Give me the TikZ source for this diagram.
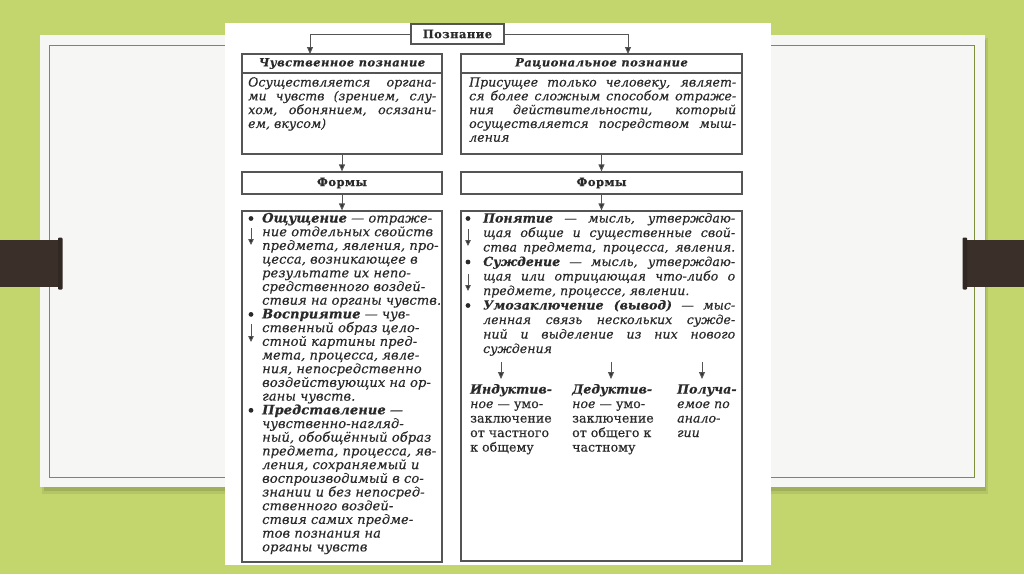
\documentclass[tikz,border=0pt]{standalone}
\usepackage{fontspec}
\setmainfont{DejaVu Serif}
\newfontfamily\myHdFam[LetterSpace=4,FakeBold=0.3]{DejaVu Serif}
\newfontfamily\myBodyL[LetterSpace=0.8,FakeBold=0.35]{DejaVu Serif}
\newfontfamily\myBodyR[LetterSpace=0.5,FakeBold=0.35]{DejaVu Serif}
\usetikzlibrary{arrows.meta}
\definecolor{bggreen}{HTML}{C3D66E}
\definecolor{panelc}{HTML}{F6F6F4}
\definecolor{frameol}{HTML}{7E8F3C}
\definecolor{tabc}{HTML}{3A2F29}
\definecolor{linec}{HTML}{555555}
\definecolor{arrc}{HTML}{333333}
\definecolor{txtc}{HTML}{2A2A2A}
\newcommand\myTrm[1]{{\bfseries #1}}
\tikzset{
  boxst/.style={draw=linec, line width=1.2pt, inner sep=0pt, fill=white},
  hdup/.style={font=\myHdFam\bfseries\fontsize{11.5}{13}\selectfont, text=txtc},
  hdit/.style={font=\myHdFam\bfseries\itshape\fontsize{11.5}{13}\selectfont, text=txtc},
  arr/.style={draw=linec, line width=1pt, -{Triangle[length=7pt,width=6pt,fill=arrc]}},
  sarr/.style={draw=linec, line width=0.8pt, -{Triangle[length=6pt,width=5.5pt,fill=arrc]}},
  lnL/.style={anchor=base west, inner sep=0pt, text=txtc, font=\myBodyL\itshape\fontsize{13}{14}\selectfont},
  lnR/.style={anchor=base west, inner sep=0pt, text=txtc, font=\myBodyR\itshape\fontsize{12.5}{14}\selectfont},
  lnU/.style={anchor=base west, inner sep=0pt, text=txtc, font=\myBodyL\fontsize{12.5}{14}\selectfont},
  bul/.style={circle, fill=txtc, inner sep=0pt, minimum size=4.8pt}
}
\begin{document}
\begin{tikzpicture}[x=1pt,y=-1pt]
\useasboundingbox (0,0) rectangle (1024,574);
% slide background
\fill[bggreen] (0,0) rectangle (1024,574);
\fill[black,opacity=0.08] (42,38) rectangle (988,494);
\fill[black,opacity=0.10] (44,40) rectangle (986,491);
\fill[panelc] (40,35) rectangle (985,487);
\draw[frameol, line width=0.9pt] (49,45) rectangle (974,477);
\fill[tabc] (0,240) rectangle (62,287);
\fill[tabc!85!black, rounded corners=1pt] (58,237.5) rectangle (62.5,289.5);
\fill[tabc] (963,240) rectangle (1024,287);
\fill[tabc!85!black, rounded corners=1pt] (962.5,237.5) rectangle (967,289.5);
% picture area
\fill[white] (225,23) rectangle (771,565);

% main boxes
\node[boxst, hdup, minimum width=93pt, minimum height=20pt] (pz) at (457.5,34) {Познание};
\node[boxst, minimum width=200pt, minimum height=100pt] (lt) at (342,104) {};
\node[boxst, hdit, minimum width=200pt, minimum height=19pt] (lth) at (342,63.5) {Чувственное познание};
\node[boxst, minimum width=281pt, minimum height=100pt] (rt) at (601.5,104) {};
\node[boxst, hdit, minimum width=281pt, minimum height=19pt] (rth) at (601.5,63.5) {Рациональное познание};
\node[boxst, hdup, minimum width=200pt, minimum height=22pt] (lf) at (342,183) {Формы};
\node[boxst, hdup, minimum width=281pt, minimum height=22pt] (rf) at (601.5,183) {Формы};
\node[boxst, minimum width=200pt, minimum height=351pt] (lb) at (342,386.5) {};
\node[boxst, minimum width=281pt, minimum height=350pt] (rb) at (601.5,386) {};

% connectors
\coordinate (ltin) at (310,54);
\coordinate (rtin) at (628,54);
\draw[arr] (pz.west) -| (ltin);
\draw[arr] (pz.east) -| (rtin);
\draw[arr] (lt.south) -- (lf.north);
\draw[arr] (rt.south) -- (rf.north);
\draw[arr] (lf.south) -- (lb.north);
\draw[arr] (rf.south) -- (rb.north);

% top-left text
\node[lnR] (lt1) at (248,86.5) {\makebox[188pt][s]{Осуществляется органа-}};
\node[lnR] (lt2) at (248,100.3) {\makebox[188pt][s]{ми чувств (зрением, слу-}};
\node[lnR] (lt3) at (248,114.1) {\makebox[188pt][s]{хом, обонянием, осязани-}};
\node[lnR] (lt4) at (248,127.9) {ем, вкусом)};
% top-right text
\node[lnR] (rt1) at (469,86.5) {\makebox[267pt][s]{Присущее только человеку, являет-}};
\node[lnR] (rt2) at (469,100.3) {\makebox[267pt][s]{ся более сложным способом отраже-}};
\node[lnR] (rt3) at (469,114.1) {\makebox[267pt][s]{ния действительности, который}};
\node[lnR] (rt4) at (469,127.9) {\makebox[267pt][s]{осуществляется посредством мыш-}};
\node[lnR] (rt5) at (469,141.7) {ления};

% left lower text
\node[bul] (lbb1) at (251,218.5) {};
\node[bul] (lbb2) at (251,314.4) {};
\node[bul] (lbb3) at (251,410.3) {};
\coordinate (lma1) at (251,228); \coordinate (lmb1) at (251,245);
\coordinate (lma2) at (251,324); \coordinate (lmb2) at (251,342);
\draw[sarr] (lma1) -- (lmb1);
\draw[sarr] (lma2) -- (lmb2);
\node[lnL] (L1) at (262,222.5) {\myTrm{Ощущение} — отраже-};
\node[lnL] (L2) at (262,236.2) {ние отдельных свойств};
\node[lnL] (L3) at (262,249.9) {предмета, явления, про-};
\node[lnL] (L4) at (262,263.6) {цесса, возникающее в};
\node[lnL] (L5) at (262,277.3) {результате их непо-};
\node[lnL] (L6) at (262,291.0) {средственного воздей-};
\node[lnL] (L7) at (262,304.7) {ствия на органы чувств.};
\node[lnL] (L8) at (262,318.4) {\myTrm{Восприятие} — чув-};
\node[lnL] (L9) at (262,332.1) {ственный образ цело-};
\node[lnL] (L10) at (262,345.8) {стной картины пред-};
\node[lnL] (L11) at (262,359.5) {мета, процесса, явле-};
\node[lnL] (L12) at (262,373.2) {ния, непосредственно};
\node[lnL] (L13) at (262,386.9) {воздействующих на ор-};
\node[lnL] (L14) at (262,400.6) {ганы чувств.};
\node[lnL] (L15) at (262,414.3) {\myTrm{Представление} —};
\node[lnL] (L16) at (262,428.0) {чувственно-нагляд-};
\node[lnL] (L17) at (262,441.7) {ный, обобщённый образ};
\node[lnL] (L18) at (262,455.4) {предмета, процесса, яв-};
\node[lnL] (L19) at (262,469.1) {ления, сохраняемый и};
\node[lnL] (L20) at (262,482.8) {воспроизводимый в со-};
\node[lnL] (L21) at (262,496.5) {знании и без непосред-};
\node[lnL] (L22) at (262,510.2) {ственного воздей-};
\node[lnL] (L23) at (262,523.9) {ствия самих предме-};
\node[lnL] (L24) at (262,537.6) {тов познания на};
\node[lnL] (L25) at (262,551.3) {органы чувств};

% right lower text
\node[bul] (rbb1) at (468,218.5) {};
\node[bul] (rbb2) at (468,262) {};
\node[bul] (rbb3) at (468,305.5) {};
\coordinate (rma1) at (468,229); \coordinate (rmb1) at (468,246);
\coordinate (rma2) at (468,274); \coordinate (rmb2) at (468,291);
\draw[sarr] (rma1) -- (rmb1);
\draw[sarr] (rma2) -- (rmb2);
\node[lnR] (R1) at (483,222.5) {\makebox[252pt][s]{\myTrm{Понятие} — мысль, утверждаю-}};
\node[lnR] (R2) at (483,237) {\makebox[252pt][s]{щая общие и существенные свой-}};
\node[lnR] (R3) at (483,251.5) {\makebox[252pt][s]{ства предмета, процесса, явления.}};
\node[lnR] (R4) at (483,266) {\makebox[252pt][s]{\myTrm{Суждение} — мысль, утверждаю-}};
\node[lnR] (R5) at (483,280.5) {\makebox[252pt][s]{щая или отрицающая что-либо о}};
\node[lnR] (R6) at (483,295) {предмете, процессе, явлении.};
\node[lnR] (R7) at (483,309.5) {\makebox[252pt][s]{\myTrm{Умозаключение (вывод)} — мыс-}};
\node[lnR] (R8) at (483,324) {\makebox[252pt][s]{ленная связь нескольких сужде-}};
\node[lnR] (R9) at (483,338.5) {\makebox[252pt][s]{ний и выделение из них нового}};
\node[lnR] (R10) at (483,353) {суждения};

% three branches
\coordinate (ba1) at (501,362); \coordinate (be1) at (501,379);
\coordinate (ba2) at (611,362); \coordinate (be2) at (611,379);
\coordinate (ba3) at (702,362); \coordinate (be3) at (702,379);
\draw[arr] (ba1) -- (be1);
\draw[arr] (ba2) -- (be2);
\draw[arr] (ba3) -- (be3);
\node[lnR] (c11) at (470,393.5) {\myTrm{Индуктив-}};
\node[lnR] (c12) at (470,408) {ное {\upshape — умо-}};
\node[lnU] (c13) at (470,422.5) {заключение};
\node[lnU] (c14) at (470,437) {от частного};
\node[lnU] (c15) at (470,451.5) {к общему};
\node[lnR] (c21) at (572,393.5) {\myTrm{Дедуктив-}};
\node[lnR] (c22) at (572,408) {ное {\upshape — умо-}};
\node[lnU] (c23) at (572,422.5) {заключение};
\node[lnU] (c24) at (572,437) {от общего к};
\node[lnU] (c25) at (572,451.5) {частному};
\node[lnR] (c31) at (677,393.5) {\myTrm{Получа-}};
\node[lnR] (c32) at (677,408) {емое по};
\node[lnR] (c33) at (677,422.5) {анало-};
\node[lnR] (c34) at (677,437) {гии};
\end{tikzpicture}
\end{document}
